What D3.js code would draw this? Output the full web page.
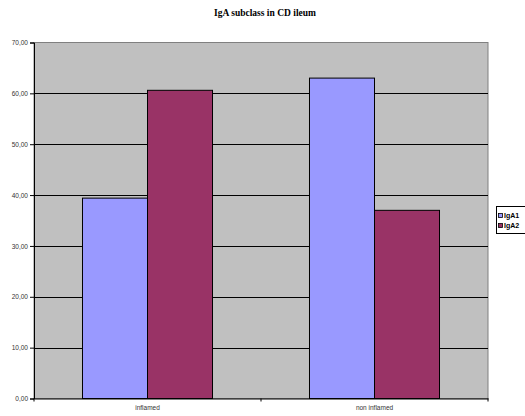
<!DOCTYPE html>
<html><head><meta charset="utf-8">
<script src="https://cdn.jsdelivr.net/npm/d3@7"></script>
<style>body{margin:0;background:#fff}svg{display:block}</style>
</head><body>
<svg id="c" width="525" height="416"></svg>
<script>
const categories = ["inflamed", "non inflamed"];
const series = ["IgA1", "IgA2"];
const IgA1 = [39.4, 63.0];
const IgA2 = [60.6, 37.0];
const yTicks = [0, 10, 20, 30, 40, 50, 60, 70];
const colors = ["#9999FF", "#993366"];
const title = "IgA subclass in CD ileum";

const svg = d3.select("#c");
const L = 34, R = 488, T = 42.5, B = 398.5;
const y = d3.scaleLinear().domain([0, 70]).range([B, T]);
const x0 = d3.scaleBand().domain(categories).range([L, R]).paddingInner(0).paddingOuter(0);
const x1 = d3.scaleBand().domain(series).range([0, x0.bandwidth()]).paddingInner(0).paddingOuter(0.746);
const vals = {IgA1, IgA2};

svg.append("text").attr("x", 265).attr("y", 16).attr("text-anchor", "middle")
  .attr("font-family", "Liberation Serif, Times New Roman, serif").attr("font-weight", "bold")
  .attr("font-size", 9.5).attr("fill", "#000").text(title);

svg.append("rect").attr("x", L).attr("y", T).attr("width", R - L).attr("height", B - T)
  .attr("fill", "#C0C0C0").attr("stroke", "#808080").attr("stroke-width", 1);

svg.append("g").selectAll("line").data(yTicks.filter(t => t > 0 && t < 70)).join("line")
  .attr("x1", L).attr("x2", R).attr("y1", d => Math.round(y(d)) + 0.5).attr("y2", d => Math.round(y(d)) + 0.5)
  .attr("stroke", "#000").attr("stroke-width", 1);

const g = svg.append("g");
categories.forEach((c, i) => {
  series.forEach((s, j) => {
    const v = vals[s][i];
    g.append("rect")
      .attr("x", x0(c) + x1(s)).attr("y", y(v))
      .attr("width", x1.bandwidth()).attr("height", B - y(v))
      .attr("fill", colors[j]).attr("stroke", "#000").attr("stroke-width", 1);
  });
});

const yAxis = svg.append("g").attr("transform", `translate(${L},0)`)
  .call(d3.axisLeft(y).tickValues(yTicks).tickSize(4).tickPadding(2).tickFormat(d => d3.format(".2f")(d).replace(".", ",")));
yAxis.select(".domain").attr("stroke", "#000");
yAxis.selectAll("line").attr("stroke", "#000");
yAxis.selectAll("text").attr("font-family", "Liberation Sans, Arial, sans-serif").attr("font-size", 6.5).attr("fill", "#333");

const xAxis = svg.append("g").attr("transform", `translate(0,${B})`)
  .call(d3.axisBottom(x0).tickSize(0).tickPadding(7));
xAxis.select(".domain").attr("stroke", "#000");
xAxis.selectAll("text").attr("font-family", "Liberation Sans, Arial, sans-serif").attr("font-size", 6.5).attr("fill", "#333");
const bounds = [L, (L + R) / 2, R];
svg.append("g").selectAll("line").data(bounds).join("line")
  .attr("x1", d => d).attr("x2", d => d).attr("y1", B).attr("y2", B + 3).attr("stroke", "#000");

const lg = svg.append("g").attr("transform", "translate(496,206)");
lg.append("rect").attr("x", 0.5).attr("y", 0.5).attr("width", 40).attr("height", 27)
  .attr("fill", "#fff").attr("stroke", "#000");
series.forEach((s, j) => {
  lg.append("rect").attr("x", 2.5).attr("y", 7.5 + j * 10).attr("width", 4).attr("height", 4)
    .attr("fill", colors[j]).attr("stroke", "#000").attr("stroke-width", 0.8);
  lg.append("text").attr("x", 8).attr("y", 12 + j * 10).attr("font-family", "Liberation Sans, Arial, sans-serif")
    .attr("font-weight", "bold").attr("font-size", 7).attr("fill", "#000").text(s);
});
</script>
</body></html>
